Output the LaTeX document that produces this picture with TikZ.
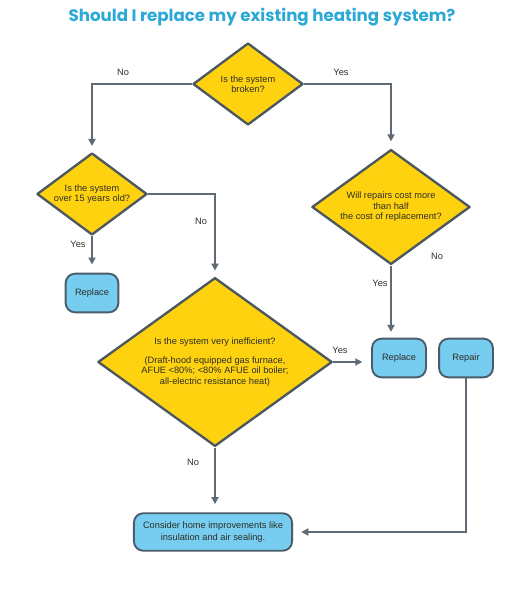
\documentclass[tikz,border=0pt]{standalone}
\usepackage{fontspec}
\setmainfont{Liberation Sans}
\newfontfamily\titlefont{Poppins}
\usetikzlibrary{arrows.meta,shapes.geometric,positioning}
\definecolor{titleblue}{HTML}{2BA8D6}
\definecolor{qyellow}{HTML}{FFD20F}
\definecolor{qborder}{HTML}{4C5860}
\definecolor{boxblue}{HTML}{76CDF0}
\definecolor{boxborder}{HTML}{4A5C6A}
\definecolor{linegray}{HTML}{5F6A74}
\definecolor{txtdark}{HTML}{2E2E26}

\begin{document}
\begin{tikzpicture}[x=0.03cm, y=-0.03cm,
    font=\fontsize{7.9}{9.5}\selectfont,
    decision/.style={diamond, draw=qborder, fill=qyellow, line width=2pt,
      inner sep=0pt, line join=round},
    qtext/.style={align=center, text=txtdark, font=\fontsize{7.9}{9}\selectfont},
    answer/.style={rounded corners=8pt, draw=boxborder, fill=boxblue,
      line width=1.6pt, align=center, text=txtdark, inner sep=0pt,
      font=\fontsize{7.9}{10}\selectfont},
    flow/.style={draw=linegray, line width=1.5pt, -{Triangle[length=6pt,width=6pt]}},
    choice/.style={text=txtdark}
]
\useasboundingbox (0,0) rectangle (527,600);

% ---- Titulo ----
\node[font=\titlefont\bfseries\fontsize{14.2}{16}\selectfont, text=titleblue] (title) at (262,17)
  {Should I replace my existing heating system?};

% ---- Preguntas ----
\node[decision, minimum width=94pt, minimum height=70pt,
  label={[qtext]center:Is the system\\broken?}] (q1) at (248,84) {};
\node[decision, minimum width=94pt, minimum height=70pt,
  label={[qtext]center:Is the system\\over 15 years old?}] (q2) at (92,194) {};
\node[decision, minimum width=135pt, minimum height=98pt,
  label={[qtext]center:Will repairs cost more\\than half\\the cost of replacement?}] (q3) at (391,207) {};
\node[decision, minimum width=200pt, minimum height=144pt,
  label={[qtext]center:Is the system very inefficient?\\[7pt](Draft-hood equipped gas furnace,\\AFUE <80\%; <80\% AFUE oil boiler;\\all-electric resistance heat)}] (q4) at (215,362) {};

% ---- Respuestas ----
\node[answer, minimum width=45pt, minimum height=33pt] (r1) at (92,293) {Replace};
\node[answer, minimum width=46pt, minimum height=33pt] (r2) at (399,358) {Replace};
\node[answer, minimum width=46pt, minimum height=33pt] (rep) at (466,358) {Repair};
\node[answer, minimum width=135pt, minimum height=32pt] (home) at (213,532)
  {Consider home improvements like\\insulation and air sealing.};

% Conectores
\draw[flow, shorten >=5pt] (q1.west) -| (q2.north);
\draw[flow, shorten >=6pt] (q1.east) -| (q3.north);
\draw[flow, shorten >=5pt] (q2.east) -| (q4.north);
\draw[flow, shorten >=7pt] (q2.south) -- (r1.north);
\draw[flow, shorten >=5pt] (q3.south) -- (q3.south |- r2.north);
\draw[flow, shorten >=7.5pt] (q4.east) -- (q4.east -| r2.west);
\draw[flow, shorten >=7pt] (q4.south) -- (q4.south |- home.north);
\draw[flow, shorten >=7pt] (rep.south) |- (home.east);

% Etiquetas
\node[choice] (no1) at (123,72) {No};
\node[choice] (yes1) at (341,72) {Yes};
\node[choice] (no2) at (201,221) {No};
\node[choice] (yes2) at (78,244) {Yes};
\node[choice] (no3) at (437,256) {No};
\node[choice] (yes3) at (380,283) {Yes};
\node[choice] (yes4) at (340,350) {Yes};
\node[choice] (no4) at (193,462) {No};

\end{tikzpicture}
\end{document}
